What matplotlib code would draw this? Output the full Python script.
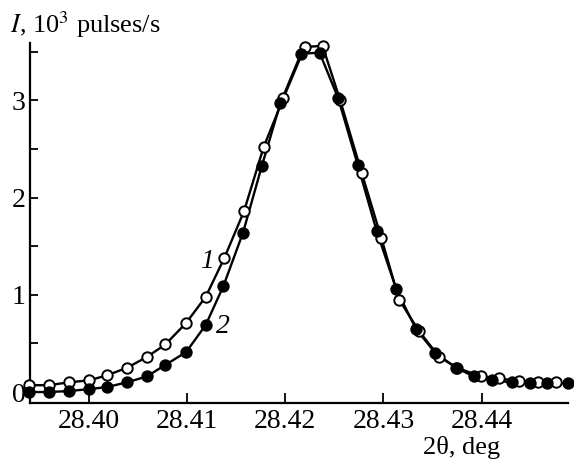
import matplotlib
matplotlib.use('Agg')
import matplotlib.pyplot as plt
from matplotlib.ticker import MultipleLocator

plt.rcParams['font.family'] = ['Liberation Serif', 'DejaVu Serif']
plt.rcParams['mathtext.fontset'] = 'stix'

# curve 1 (open circles)
x1 = [28.3939, 28.3959, 28.3980, 28.4000, 28.4018, 28.4039, 28.4059, 28.4078,
      28.4099, 28.4119, 28.4138, 28.4158, 28.4178, 28.4198, 28.4220, 28.4238,
      28.4256, 28.4278, 28.4298, 28.4316, 28.4336, 28.4357, 28.4375, 28.4399,
      28.4418, 28.4438, 28.4457, 28.4476]
y1 = [0.07, 0.07, 0.10, 0.12, 0.17, 0.25, 0.36, 0.49,
      0.71, 0.98, 1.38, 1.86, 2.52, 3.02, 3.55, 3.56,
      3.00, 2.25, 1.58, 0.95, 0.63, 0.36, 0.25, 0.16,
      0.14, 0.11, 0.10, 0.10]

# curve 2 (filled circles)
x2 = [28.3939, 28.3959, 28.3980, 28.4000, 28.4018, 28.4039, 28.4059, 28.4078,
      28.4099, 28.4119, 28.4137, 28.4157, 28.4176, 28.4195, 28.4216, 28.4235,
      28.4254, 28.4274, 28.4293, 28.4313, 28.4333, 28.4353, 28.4374, 28.4392,
      28.4411, 28.4431, 28.4449, 28.4467, 28.4488]
y2 = [0.00, 0.00, 0.01, 0.03, 0.05, 0.10, 0.16, 0.28,
      0.41, 0.69, 1.09, 1.64, 2.32, 2.97, 3.48, 3.49,
      3.02, 2.33, 1.66, 1.06, 0.65, 0.40, 0.25, 0.16,
      0.12, 0.10, 0.09, 0.09, 0.09]

xticks = [28.40, 28.41, 28.42, 28.43, 28.44]
yticks = [0, 1, 2, 3]

fig = plt.figure(figsize=(5.74, 4.61), dpi=100)
ax = fig.add_axes([30/574, 58/461, 538/574, 360/461])

ax.plot(x1, y1, '-', color='black', lw=1.7, zorder=2, clip_on=False)
ax.plot(x2, y2, '-', color='black', lw=1.7, zorder=2, clip_on=False)
ax.plot(x1, y1, 'o', ms=7.5, mfc='white', mec='black', mew=1.4, zorder=3, clip_on=False)
ax.plot(x2, y2, 'o', ms=7.5, mfc='black', mec='black', mew=1.4, zorder=4, clip_on=False)

ax.set_xlim(28.3940, 28.4488)
ax.set_ylim(-0.113, 3.59)

ax.set_xticks(xticks)
ax.set_xticklabels([f'{t:.2f}' for t in xticks])
ax.set_yticks(yticks)
ax.set_yticklabels([str(t) for t in yticks])
ax.yaxis.set_minor_locator(MultipleLocator(0.5))

ax.spines['top'].set_visible(False)
ax.spines['right'].set_visible(False)
ax.spines['left'].set_linewidth(1.6)
ax.spines['bottom'].set_linewidth(1.6)
ax.tick_params(axis='both', which='both', direction='in', width=1.3, labelsize=20)
ax.tick_params(axis='y', which='major', length=6, pad=3)
ax.tick_params(axis='y', which='minor', length=6)
ax.tick_params(axis='x', which='major', length=7, pad=4)

ax.text(28.4120, 1.34, '1', style='italic', fontsize=20, ha='center', va='center')
ax.text(28.4137, 0.67, '2', style='italic', fontsize=20, ha='center', va='center')

fig.text(10/574, 1 - 33/461, '$I$, 10$^3$ pulses/s', fontsize=19, ha='left', va='baseline')
fig.text(423/574, 7/461, '2θ, deg', fontsize=19, ha='left', va='baseline')

fig.savefig('out.png', dpi=100)
